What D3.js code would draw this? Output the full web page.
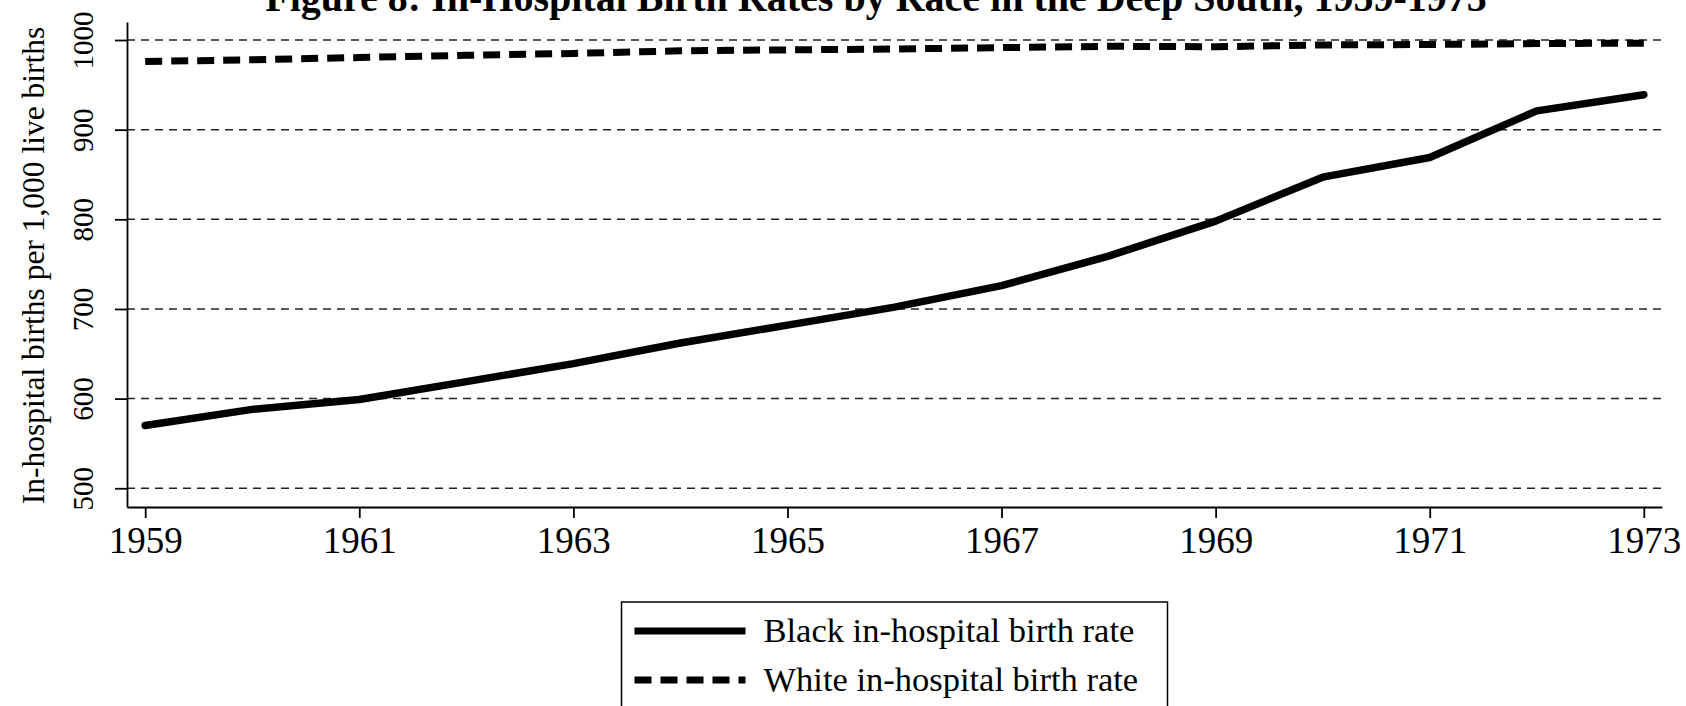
<html>
<script src="https://d3js.org/d3.v7.min.js"></script>
<style>
body{ margin:0; background:#fff; }
svg{ display:block; }
text{ font-family:"Liberation Serif","Times New Roman",serif; fill:#000; }
</style>
<body></body>
<script>
const width = 1686;
const height = 706;

const years = [1959,1960,1961,1962,1963,1964,1965,1966,1967,1968,1969,1970,1971,1972,1973];
const blackRate = [570,588,599,619,639,662,682,702,726,759,798,847,869,921,939];
const whiteRate = [976,978,980.5,983,985,988,989,990,991.5,993,992.5,994.5,995,996,996.5];
const xTicks = [1959,1961,1963,1965,1967,1969,1971,1973];
const yTicks = [500,600,700,800,900,1000];
const seriesNames = ['Black in-hospital birth rate','White in-hospital birth rate'];
const titleText = 'Figure 8: In-Hospital Birth Rates by Race in the Deep South, 1959-1973';
const yTitle = 'In-hospital births per 1,000 live births';

// plot region
const plotL = 127, plotR = 1662, plotT = 22, plotB = 507;

const x = d3.scaleLinear()
    .domain([1958.83, 1973.17])
    .range([plotL, plotR]);

const y = d3.scaleLinear()
    .domain([479.1, 1020.1])
    .range([plotB, plotT]);

const svg = d3.select('body')
  .append('svg')
    .attr('width', width)
    .attr('height', height);

// gridlines
svg.append('g')
  .selectAll('line')
  .data(yTicks)
    .enter()
  .append('line')
    .attr('x1', plotL)
    .attr('x2', plotR)
    .attr('y1', d=>y(d))
    .attr('y2', d=>y(d))
    .attr('stroke', '#222')
    .attr('stroke-width', 1.5)
    .attr('stroke-dasharray', '8,6');

// y axis
const yAxis = svg.append('g')
    .attr('transform', `translate(${plotL},0)`)
    .call(d3.axisLeft(y).tickValues(yTicks).tickFormat(d3.format('d')).tickSize(12).tickSizeOuter(0));
yAxis.selectAll('text')
    .attr('transform', 'rotate(-90)')
    .attr('x', 0)
    .attr('y', -34)
    .attr('dy', 0)
    .attr('text-anchor', 'middle')
    .style('font-size', '29px');

// x axis
const xAxis = svg.append('g')
    .attr('transform', `translate(0,${plotB})`)
    .call(d3.axisBottom(x).tickValues(xTicks).tickFormat(d3.format('d')).tickSize(11).tickSizeOuter(0));
xAxis.selectAll('text')
    .attr('y', 46)
    .attr('dy', 0)
    .style('font-size', '37px');

svg.selectAll('.domain, .tick line')
    .attr('stroke', '#000')
    .attr('stroke-width', 1.8);
svg.selectAll('.tick text').attr('fill', '#000').style('font-family', '"Liberation Serif",serif');

// lines
const line = d3.line()
    .x((d,i)=>x(years[i]))
    .y(d=>y(d));

svg.append('path')
    .datum(whiteRate)
    .attr('d', line)
    .attr('fill', 'none')
    .attr('stroke', '#000')
    .attr('stroke-width', 7)
    .attr('stroke-dasharray', '17,9');

svg.append('path')
    .datum(blackRate)
    .attr('d', line)
    .attr('fill', 'none')
    .attr('stroke', '#000')
    .attr('stroke-width', 7.5)
    .attr('stroke-linecap', 'round')
    .attr('stroke-linejoin', 'round');

// title (cut at the top edge, as in the original)
svg.append('text')
    .attr('x', 876)
    .attr('y', 11)
    .attr('text-anchor', 'middle')
    .style('font-size', '40px')
    .style('font-weight', 'bold')
    .text(titleText);

// y title
svg.append('text')
    .attr('transform', `translate(44,${(plotT+plotB)/2 + 1}) rotate(-90)`)
    .attr('text-anchor', 'middle')
    .style('font-size', '31.5px')
    .text(yTitle);

// legend
const cx = (plotL + plotR) / 2;
const legend = svg.append('g');
legend.append('rect')
    .attr('x', cx - 273)
    .attr('y', 602)
    .attr('width', 546)
    .attr('height', 130)
    .attr('fill', '#fff')
    .attr('stroke', '#000')
    .attr('stroke-width', 1.5);

const rows = legend.selectAll('g.row')
  .data(seriesNames)
    .enter()
  .append('g')
    .attr('class', 'row')
    .attr('transform', (d,i)=>`translate(${cx - 260},${631 + i*49})`);

rows.append('line')
    .attr('x1', 0)
    .attr('x2', 111)
    .attr('stroke', '#000')
    .attr('stroke-width', 7)
    .attr('stroke-dasharray', (d,i)=> i ? '17,9' : null);

rows.append('text')
    .attr('x', 129)
    .attr('y', 11)
    .style('font-size', '34.5px')
    .text(d=>d);
</script>
</html>
